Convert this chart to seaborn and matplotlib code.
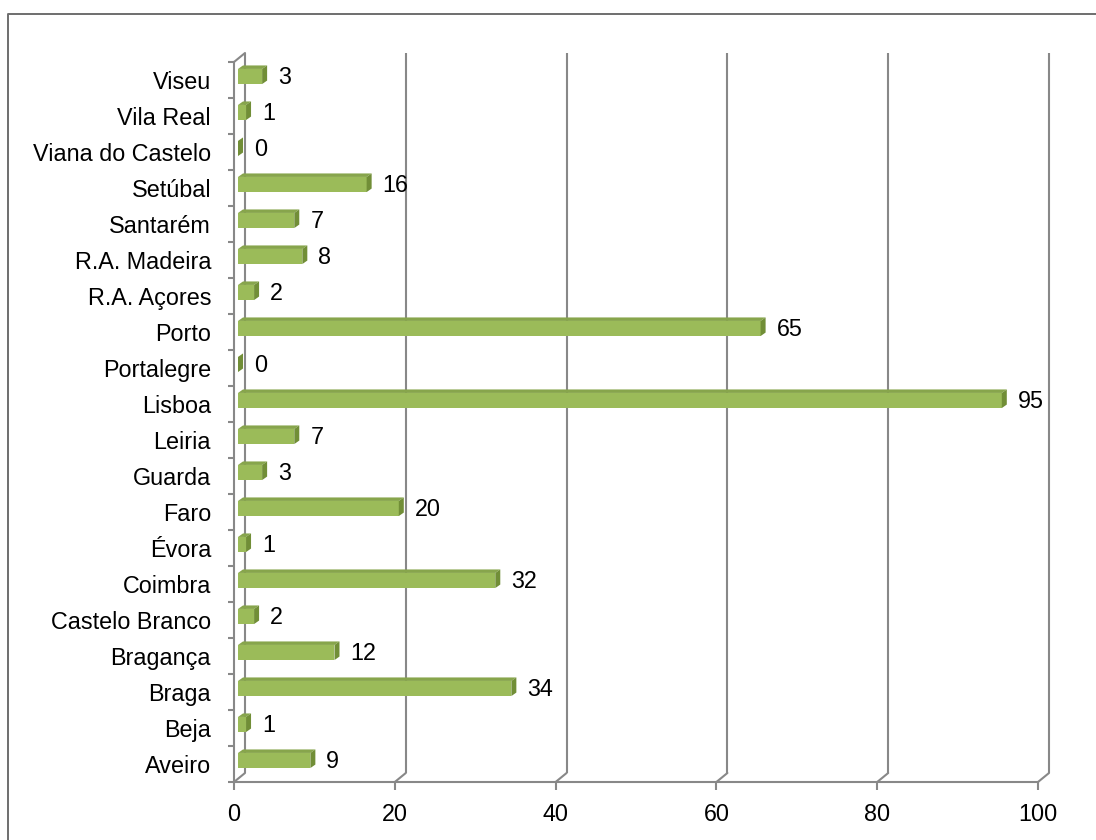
import matplotlib
matplotlib.use("Agg")
import matplotlib.pyplot as plt
import seaborn as sns
import pandas as pd
from matplotlib.transforms import ScaledTranslation
from matplotlib.patches import Polygon
from matplotlib.lines import Line2D

# Districts listed from top to bottom, with their counts
distritos = ["Viseu", "Vila Real", "Viana do Castelo", "Setúbal", "Santarém",
             "R.A. Madeira", "R.A. Açores", "Porto", "Portalegre", "Lisboa",
             "Leiria", "Guarda", "Faro", "Évora", "Coimbra", "Castelo Branco",
             "Bragança", "Braga", "Beja", "Aveiro"]
valores = [3, 1, 0, 16, 7, 8, 2, 65, 0, 95, 7, 3, 20, 1, 32, 2, 12, 34, 1, 9]
x_ticks = [0, 20, 40, 60, 80, 100]

FRONT = "#9BBB59"
TOP = "#87A54C"
SIDE = "#718E37"
GRID = "#888888"
DPI = 100
FS = 16.8

sns.set_theme(style="white")
plt.rcParams["font.family"] = ["Liberation Sans", "DejaVu Sans"]

W, H = 1096, 840
fig = plt.figure(figsize=(W / DPI, H / DPI), dpi=DPI)
ax = fig.add_axes([234 / W, 58 / H, 804 / W, 720 / H])

df = pd.DataFrame({"distrito": distritos, "valor": valores})
sns.barplot(data=df, x="valor", y="distrito", order=distritos, orient="h",
            color=FRONT, saturation=1, width=0.42, linewidth=0, ax=ax, zorder=3)

ax.set_xlim(0, 100)
ax.set_ylim(len(distritos) - 0.5, -0.5)
ax.set_xticks(x_ticks)
ax.set_xticklabels([str(t) for t in x_ticks])
ax.set_xlabel("")
ax.set_ylabel("")

def px(p):
    return ScaledTranslation(p[0] / DPI, p[1] / DPI, fig.dpi_scale_trans)

# depth offsets (pixels) of the back wall and of the bar boxes
WALL = (11, 9)
BAR_SHIFT = (4, 3.5)
BAR_DEPTH = (5, 3.5)

# Back wall gridlines
for t in x_ticks:
    ax.plot([t, t], [0, 1], transform=ax.get_xaxis_transform() + px(WALL),
            color=GRID, lw=1.5, zorder=1, clip_on=False, solid_capstyle="butt")

fig.canvas.draw()

# Floor diagonals joining front ticks to the wall
for t in x_ticks:
    x0, y0 = ax.transData.transform((t, len(distritos) - 0.5))
    fig.add_artist(Line2D([x0, x0 + WALL[0]], [y0, y0 + WALL[1]], transform=None,
                          color=GRID, lw=1.5, zorder=1))
# Top diagonal of the left wall
x0, y0 = ax.transData.transform((0, -0.5))
fig.add_artist(Line2D([x0, x0 + WALL[0]], [y0, y0 + WALL[1]], transform=None,
                      color=GRID, lw=1.5, zorder=1))

# Bars: shift front faces into the depth and add top / side faces
for patch in ax.patches:
    patch.set_transform(ax.transData + px(BAR_SHIFT))
    x, y = patch.get_x(), patch.get_y()
    w, h = patch.get_width(), patch.get_height()
    (xl, yb) = ax.transData.transform((x, y + h))
    (xr, yt) = ax.transData.transform((x + w, y))
    xl += BAR_SHIFT[0]; xr += BAR_SHIFT[0]
    yb += BAR_SHIFT[1]; yt += BAR_SHIFT[1]
    dx, dy = BAR_DEPTH
    top = Polygon([(xl, yt), (xr, yt), (xr + dx, yt + dy), (xl + dx, yt + dy)],
                  closed=True, transform=None, facecolor=TOP, edgecolor="none", zorder=4)
    side = Polygon([(xr, yb), (xr, yt), (xr + dx, yt + dy), (xr + dx, yb + dy)],
                   closed=True, transform=None, facecolor=SIDE, edgecolor="none", zorder=4)
    fig.add_artist(top)
    fig.add_artist(side)

# Value labels
for i, v in enumerate(valores):
    ax.text(v, i, str(v), transform=ax.transData + px((20, 2)),
            ha="left", va="center", fontsize=FS, color="black", zorder=5)

# Axes styling
for s in ["top", "right"]:
    ax.spines[s].set_visible(False)
for s in ["left", "bottom"]:
    ax.spines[s].set_color(GRID)
    ax.spines[s].set_linewidth(1.5)
ax.grid(False)
ax.set_facecolor("none")

ax.tick_params(axis="x", length=6, width=1.5, color=GRID, direction="out",
               labelsize=FS, pad=9, labelcolor="black", bottom=True)
ax.tick_params(axis="y", which="major", length=0, pad=16.5, labelsize=FS,
               labelcolor="black", left=True)
ax.set_yticks([i + 0.5 for i in range(-1, len(distritos))], minor=True)
ax.tick_params(axis="y", which="minor", length=4.5, width=1.5, color=GRID,
               direction="out", left=True)

# Chart area border
fig.add_artist(Line2D([8 / W, 8 / W, 1.0], [0.0, 1 - 14 / H, 1 - 14 / H],
                      transform=fig.transFigure, color="#6E6E6E", lw=1.4))

fig.savefig("out.png", dpi=DPI)
